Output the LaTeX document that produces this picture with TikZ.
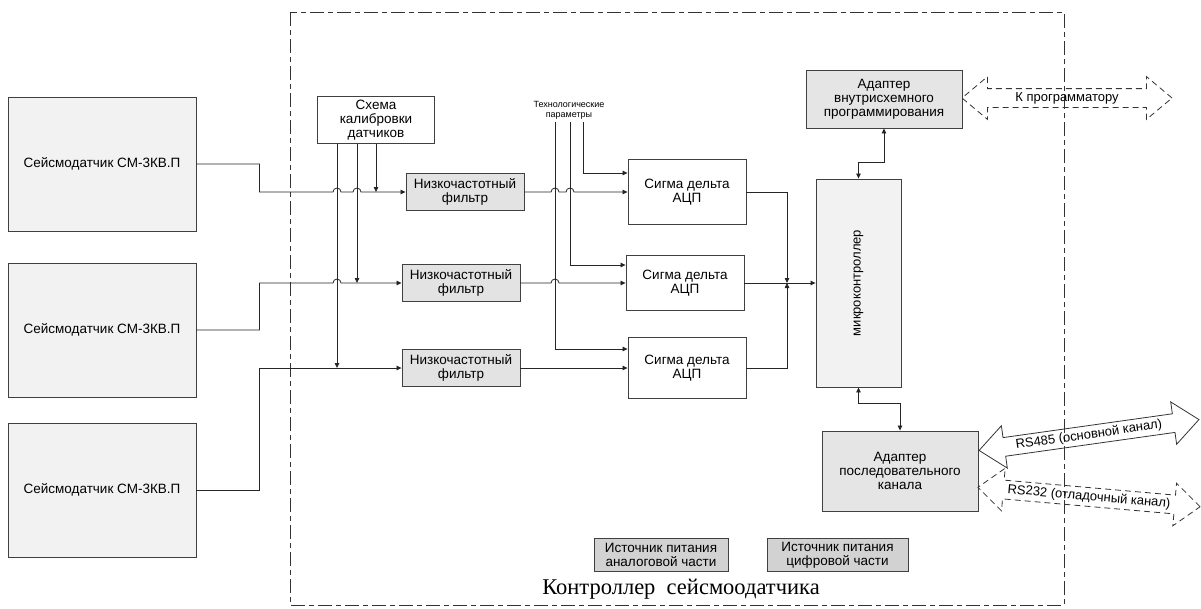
\documentclass[tikz,border=0pt]{standalone}
\usepackage{fontspec}
\setmainfont{Liberation Sans}
\newfontfamily\titlefont{Liberation Serif}
\usetikzlibrary{arrows.meta,shapes.arrows}

\begin{document}
\begin{tikzpicture}[x=1pt,y=-1pt,
  >={Triangle[length=5pt,width=4.5pt]},
  box/.style={draw=black!75,line width=0.9pt,align=center,inner sep=1pt,font=\fontsize{13.5}{14}\selectfont},
  sensor/.style={box,fill=gray!10,minimum width=188pt,minimum height=134pt},
  filterbox/.style={box,fill=gray!22,minimum width=118pt,minimum height=37pt},
  adcbox/.style={box,fill=white,minimum width=118pt},
  adapter/.style={box,fill=gray!20,minimum width=156pt},
  powerbox/.style={box,fill=gray!35,minimum height=33pt},
  wire/.style={draw=black!85,line width=0.8pt},
  darrow/.style={double arrow,draw=black!80,line width=0.8pt,double arrow head extend=12pt,
    double arrow tip angle=80,inner sep=2.5pt,text height=10pt,text depth=3pt,font=\fontsize{13}{14}\selectfont},
  dashline/.style={dash pattern=on 6pt off 4pt}]
\useasboundingbox (0,0) rectangle (1201,608);
\draw[black!80,line width=0.8pt,dash pattern=on 14pt off 4pt on 5pt off 4pt] (290,12) rectangle (1064,605);
\node[font=\titlefont\fontsize{22.5}{24}\selectfont,anchor=base] (title) at (681,594) {Контроллер\ \ сейсмоодатчика};

\node[sensor] (s1) at (102,164) {Сейсмодатчик СМ-3КВ.П};
\node[sensor] (s2) at (102,330) {Сейсмодатчик СМ-3КВ.П};
\node[sensor] (s3) at (102,490) {Сейсмодатчик СМ-3КВ.П};

\node[box,fill=white,minimum width=117pt,minimum height=47pt] (cal) at (376,120) {Схема\\калибровки\\датчиков};
\node[font=\fontsize{9}{10}\selectfont,align=center] (tp) at (569,110) {Технологические\\параметры};
\coordinate (tp1) at (555,122);
\coordinate (tp2) at (570,122);
\coordinate (tp3) at (583,122);

\node[filterbox] (f1) at (465,192) {Низкочастотный\\фильтр};
\node[filterbox] (f2) at (461,283) {Низкочастотный\\фильтр};
\node[filterbox] (f3) at (461,368) {Низкочастотный\\фильтр};

\node[adcbox,minimum height=65pt] (adc1) at (687,192) {Сигма дельта\\АЦП};
\node[adcbox,minimum height=55pt] (adc2) at (685,283) {Сигма дельта\\АЦП};
\node[adcbox,minimum height=61pt] (adc3) at (687,368) {Сигма дельта\\АЦП};

\node[box,fill=gray!10,minimum width=85pt,minimum height=208pt] (mcu) at (858.5,283) {};
\node[rotate=90,font=\fontsize{13}{14}\selectfont] (mcutext) at (mcu.center) {микроконтроллер};

\node[adapter,minimum height=58pt] (isp) at (884,99) {Адаптер\\внутрисхемного\\программирования};
\node[adapter,minimum height=80pt] (ser) at (900,471) {Адаптер\\последовательного\\канала};

\node[powerbox,minimum width=134pt] (pwa) at (661,555) {Источник питания\\аналоговой части};
\node[powerbox,minimum width=141pt] (pwd) at (837.5,555) {Источник питания\\цифровой части};

\draw[wire,->] (s1.east) -- ++(63,0) |- (333,192) arc[start angle=180,end angle=0,radius=4pt]
  -- (353,192) arc[start angle=180,end angle=0,radius=4pt] -- (f1.west);
\draw[wire,->] (s2.east) -- ++(63,0) |- (333,283) arc[start angle=180,end angle=0,radius=4pt] -- (f2.west);
\draw[wire,->] (s3.east) -- ++(63,0) |- (f3.west);

\draw[wire,->] (cal.south) -- (cal.south |- f1.west);
\draw[wire,->] ([xshift=-19pt]cal.south) -- ([xshift=-19pt]cal.south |- f2.west);
\draw[wire,->] ([xshift=-39pt]cal.south) -- ([xshift=-39pt]cal.south |- f3.west);

\draw[wire,->] (f1.east) -- (551,192) arc[start angle=180,end angle=0,radius=4pt]
  -- (566,192) arc[start angle=180,end angle=0,radius=4pt] -- (f1.east -| adc1.west);
\draw[wire,->] (f2.east) -- (551,283) arc[start angle=180,end angle=0,radius=4pt] -- (f2.east -| adc2.west);
\draw[wire,->] (f3.east) -- (f3.east -| adc3.west);

\draw[wire,->] (tp3) |- ([yshift=19pt]adc1.west);
\draw[wire,->] (tp2) |- ([yshift=18pt]adc2.west);
\draw[wire,->] (tp1) |- ([yshift=19pt]adc3.west);

\coordinate (bus) at (787,283);
\draw[wire,->] (adc1.east) -| (bus);
\draw[wire,->] (adc3.east) -| (bus);
\draw[wire,->] (adc2.east) -- (adc2.east -| mcu.west);

\draw[wire,<->] (isp.south) -- ++(0,34) -| (mcu.north);
\draw[wire,<->] (mcu.south) -- ++(0,16) -| (ser.north);

\node[darrow,dashline,minimum height=210pt] (prog) at (1067,98) {К программатору};
\node[darrow,minimum height=222pt,rotate=8] (rs485) at (1089,435) {RS485 (основной канал)};
\node[darrow,dashline,minimum height=223pt,rotate=-5] (rs232) at (1089,497) {RS232 (отладочный канал)};
\end{tikzpicture}
\end{document}
